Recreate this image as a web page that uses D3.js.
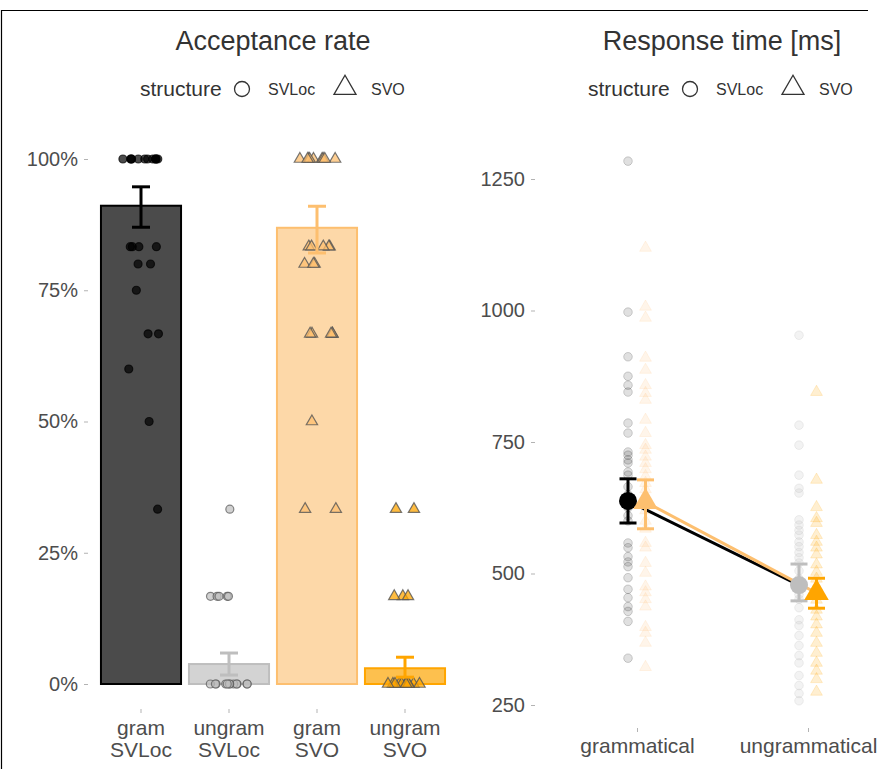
<!DOCTYPE html>
<html><head><meta charset="utf-8">
<script src="https://cdn.jsdelivr.net/npm/d3@7"></script>
<style>
body{margin:0;background:#fff}
text{font-family:"Liberation Sans",Arial,sans-serif}
</style>
</head><body>
<svg id="c" width="881" height="769"></svg>
<script>
// ---------------- data: acceptance rate ----------------
const accCategories = ["gram SVLoc", "ungram SVLoc", "gram SVO", "ungram SVO"];
const accLabels = [["gram", "SVLoc"], ["ungram", "SVLoc"], ["gram", "SVO"], ["ungram", "SVO"]];
const accStructure = ["SVLoc", "SVLoc", "SVO", "SVO"];
const accMean = [0.911, 0.038, 0.869, 0.030];
const accLow  = [0.870, 0.017, 0.821, 0.013];
const accHigh = [0.947, 0.059, 0.910, 0.051];
const accGramSVLoc = [1,1,1,1,1,1,1,1,1,1,1,1, 0.833,0.833,0.833,0.833, 0.8,0.8, 0.75, 0.667,0.667, 0.6, 0.5, 0.333];
const accUngramSVLoc = [0.333, 0.167,0.167,0.167,0.167,0.167, 0,0,0,0,0,0,0,0,0,0,0,0];
const accGramSVO = [1,1,1,1,1,1,1,1,1, 0.833,0.833,0.833,0.833,0.833, 0.8,0.8,0.8, 0.667,0.667,0.667,0.667,0.667, 0.5, 0.333,0.333];
const accUngramSVO = [0.333,0.333, 0.167,0.167,0.167, 0,0,0,0,0,0,0,0,0,0,0,0];
const accTicks = [0, 0.25, 0.5, 0.75, 1];

// ---------------- data: response time ----------------
const rtCategories = ["grammatical", "ungrammatical"];
const rtStructures = ["SVLoc", "SVO"];
const rtMeanSVLoc = [638, 478];
const rtLowSVLoc  = [596, 448];
const rtHighSVLoc = [680, 518];
const rtMeanSVO = [636, 463];
const rtLowSVO  = [585, 434];
const rtHighSVO = [678, 491];
const rtGramSVLoc = [1284, 997, 912, 875, 858, 845, 786, 767, 731, 725, 716, 710, 693, 687, 665, 650, 640, 625, 610, 600, 558, 549, 532, 522, 513, 492, 470, 454, 437, 428, 409, 339];
const rtGramSVO = [1119, 1007, 986, 910, 887, 858, 843, 830, 792, 767, 744, 735, 722, 710, 698, 685, 672, 660, 640, 620, 600, 585, 558, 549, 520, 501, 475, 464, 451, 437, 398, 387, 368, 322];
const rtUngramSVLoc = [953, 782, 744, 687, 662, 653, 602, 592, 582, 573, 560, 551, 540, 530, 520, 505, 490, 475, 460, 451, 435, 412, 401, 382, 363, 344, 330, 306, 287, 272, 258];
const rtUngramSVO = [845, 678, 626, 605, 596, 573, 560, 549, 536, 517, 503, 490, 475, 460, 450, 431, 418, 403, 387, 368, 349, 330, 315, 299, 275];
const rtTicks = [250, 500, 750, 1000, 1250];

// ---------------- styles ----------------
const colBlack = "#000000", colGrey = "#bebebe", colLightOrange = "#fdbf6f", colOrange = "#ffa500";
const accColors = [colBlack, colGrey, colLightOrange, colOrange];
const accFill = ["#4b4b4b", "#d3d3d3", "#fdd8a8", "#fdc04e"];
const textCol = "#4d4d4d";

const svg = d3.select("#c");

// frame
svg.append("path").attr("d", "M1.5,769 L1.5,10.5 L868,10.5").attr("fill", "none").attr("stroke", "#000").attr("stroke-width", 1.2);

// ============ LEFT PANEL ============
const xA = d3.scaleBand().domain(accCategories).range([97, 449]).paddingInner(0.09).paddingOuter(0.045);
const yA = d3.scaleLinear().domain([0, 1]).range([684, 159]);

svg.append("text").attr("x", 273).attr("y", 50).attr("text-anchor", "middle")
  .attr("font-size", 27).attr("fill", "#333").text("Acceptance rate");

function legend(x0) {
  const g = svg.append("g");
  g.append("text").attr("x", x0).attr("y", 96).attr("font-size", 21).attr("fill", "#333").text("structure");
  g.append("circle").attr("cx", x0 + 102).attr("cy", 89).attr("r", 7.5).attr("fill", "none").attr("stroke", "#333").attr("stroke-width", 1.3);
  g.append("text").attr("x", x0 + 128).attr("y", 95).attr("font-size", 16).attr("fill", "#333").text("SVLoc");
  g.append("path").attr("d", d3.symbol().type(d3.symbolTriangle).size(210)())
    .attr("transform", `translate(${x0 + 205},${88})`).attr("fill", "none").attr("stroke", "#333").attr("stroke-width", 1.3);
  g.append("text").attr("x", x0 + 231).attr("y", 95).attr("font-size", 16).attr("fill", "#333").text("SVO");
}
legend(140);

// y axis
const yAxA = svg.append("g").attr("transform", "translate(88,0)")
  .call(d3.axisLeft(yA).tickValues(accTicks).tickFormat(d3.format(".0%")).tickSize(4).tickPadding(6));
yAxA.select(".domain").remove();
yAxA.selectAll("line").attr("stroke", "#b3b3b3");
yAxA.selectAll("text").attr("font-size", 20).attr("fill", textCol);

// x axis
const xAxA = svg.append("g").attr("transform", "translate(0,709)")
  .call(d3.axisBottom(xA).tickSize(4).tickFormat(""));
xAxA.select(".domain").remove();
xAxA.selectAll("line").attr("stroke", "#b3b3b3");
accCategories.forEach((c, i) => {
  const t = svg.append("text").attr("x", xA(c) + xA.bandwidth() / 2).attr("y", 735)
    .attr("text-anchor", "middle").attr("font-size", 21).attr("fill", textCol);
  accLabels[i].forEach((l, j) => t.append("tspan").attr("x", xA(c) + xA.bandwidth() / 2).attr("dy", j ? 22 : 0).text(l));
});

// bars
accCategories.forEach((c, i) => {
  svg.append("rect").attr("x", xA(c)).attr("width", xA.bandwidth())
    .attr("y", yA(accMean[i])).attr("height", yA(0) - yA(accMean[i]))
    .attr("fill", accFill[i]).attr("stroke", i === 0 ? "#000" : accColors[i]).attr("stroke-width", 2);
});

// raw points (horizontal jitter only)
const accRaw = [accGramSVLoc, accUngramSVLoc, accGramSVO, accUngramSVO];
const rng = d3.randomUniform.source(d3.randomLcg(0.4217))(-19, 19);
accRaw.forEach((vals, i) => {
  const cx = xA(accCategories[i]) + xA.bandwidth() / 2;
  vals.forEach(v => {
    const px = cx + rng();
    if (accStructure[i] === "SVLoc") {
      svg.append("circle").attr("cx", px).attr("cy", yA(v)).attr("r", 4)
        .attr("fill", accColors[i]).attr("fill-opacity", 0.7)
        .attr("stroke", i === 0 ? "#000" : "#555").attr("stroke-opacity", 0.7).attr("stroke-width", 1.2);
    } else {
      svg.append("path").attr("d", d3.symbol().type(d3.symbolTriangle).size(55)())
        .attr("transform", `translate(${px},${yA(v)})`)
        .attr("fill", accColors[i]).attr("fill-opacity", 0.75)
        .attr("stroke", "#555").attr("stroke-opacity", 0.8).attr("stroke-width", 1.2);
    }
  });
});

// error bars
accCategories.forEach((c, i) => {
  const cx = xA(c) + xA.bandwidth() / 2;
  const g = svg.append("g").attr("stroke", accColors[i]).attr("stroke-width", 3).attr("fill", "none");
  g.append("line").attr("x1", cx).attr("x2", cx).attr("y1", yA(accLow[i])).attr("y2", yA(accHigh[i]));
  g.append("line").attr("x1", cx - 9).attr("x2", cx + 9).attr("y1", yA(accLow[i])).attr("y2", yA(accLow[i]));
  g.append("line").attr("x1", cx - 9).attr("x2", cx + 9).attr("y1", yA(accHigh[i])).attr("y2", yA(accHigh[i]));
});

// ============ RIGHT PANEL ============
const xR = d3.scalePoint().domain(rtCategories).range([637, 808]);
const dodge = { SVLoc: -9, SVO: 8.5 };
const yR = d3.scaleLinear().domain([250, 1250]).range([705, 179]);

svg.append("text").attr("x", 722).attr("y", 50).attr("text-anchor", "middle")
  .attr("font-size", 27).attr("fill", "#333").text("Response time [ms]");
legend(588);

const yAxR = svg.append("g").attr("transform", "translate(535,0)")
  .call(d3.axisLeft(yR).tickValues(rtTicks).tickFormat(d3.format("d")).tickSize(4).tickPadding(6));
yAxR.select(".domain").remove();
yAxR.selectAll("line").attr("stroke", "#b3b3b3");
yAxR.selectAll("text").attr("font-size", 20).attr("fill", textCol);

const xAxR = svg.append("g").attr("transform", "translate(0,728)")
  .call(d3.axisBottom(xR).tickSize(4).tickPadding(6));
xAxR.select(".domain").remove();
xAxR.selectAll("line").attr("stroke", "#b3b3b3");
xAxR.selectAll("text").attr("font-size", 21).attr("fill", textCol);

const rtRaw = [
  { cat: "grammatical", st: "SVLoc", vals: rtGramSVLoc, col: colBlack, op: 0.12 },
  { cat: "grammatical", st: "SVO", vals: rtGramSVO, col: colLightOrange, op: 0.15 },
  { cat: "ungrammatical", st: "SVLoc", vals: rtUngramSVLoc, col: colGrey, op: 0.18 },
  { cat: "ungrammatical", st: "SVO", vals: rtUngramSVO, col: colOrange, op: 0.18 }
];
rtRaw.forEach(s => {
  const px = xR(s.cat) + dodge[s.st];
  s.vals.forEach(v => {
    if (s.st === "SVLoc") {
      svg.append("circle").attr("cx", px).attr("cy", yR(v)).attr("r", 4.3)
        .attr("fill", s.col).attr("fill-opacity", s.op).attr("stroke", s.col).attr("stroke-opacity", s.op * 1.4).attr("stroke-width", 1);
    } else {
      svg.append("path").attr("d", d3.symbol().type(d3.symbolTriangle).size(60)())
        .attr("transform", `translate(${px},${yR(v)})`)
        .attr("fill", s.col).attr("fill-opacity", s.op).attr("stroke", s.col).attr("stroke-opacity", s.op).attr("stroke-width", 1);
    }
  });
});

// lines
const lineGen = d3.line().x(d => d[0]).y(d => d[1]);
svg.append("path").attr("d", lineGen(rtCategories.map((c, i) => [xR(c) + dodge.SVLoc, yR(rtMeanSVLoc[i])])))
  .attr("fill", "none").attr("stroke", colBlack).attr("stroke-width", 3);
svg.append("path").attr("d", lineGen(rtCategories.map((c, i) => [xR(c) + dodge.SVO, yR(rtMeanSVO[i])])))
  .attr("fill", "none").attr("stroke", colLightOrange).attr("stroke-width", 3);

// error bars + means
const rtSum = [
  { st: "SVLoc", mean: rtMeanSVLoc, lo: rtLowSVLoc, hi: rtHighSVLoc, cols: [colBlack, colGrey] },
  { st: "SVO", mean: rtMeanSVO, lo: rtLowSVO, hi: rtHighSVO, cols: [colLightOrange, colOrange] }
];
rtSum.forEach(s => {
  rtCategories.forEach((c, i) => {
    const cx = xR(c) + dodge[s.st];
    const g = svg.append("g").attr("stroke", s.cols[i]).attr("stroke-width", 3).attr("fill", "none");
    g.append("line").attr("x1", cx).attr("x2", cx).attr("y1", yR(s.lo[i])).attr("y2", yR(s.hi[i]));
    g.append("line").attr("x1", cx - 8.5).attr("x2", cx + 8.5).attr("y1", yR(s.lo[i])).attr("y2", yR(s.lo[i]));
    g.append("line").attr("x1", cx - 8.5).attr("x2", cx + 8.5).attr("y1", yR(s.hi[i])).attr("y2", yR(s.hi[i]));
  });
});
rtSum.forEach(s => {
  rtCategories.forEach((c, i) => {
    const cx = xR(c) + dodge[s.st];
    if (s.st === "SVLoc") {
      svg.append("circle").attr("cx", cx).attr("cy", yR(s.mean[i])).attr("r", 9).attr("fill", s.cols[i]);
    } else {
      svg.append("path").attr("d", d3.symbol().type(d3.symbolTriangle).size(260)())
        .attr("transform", `translate(${cx},${yR(s.mean[i])})`).attr("fill", s.cols[i]);
    }
  });
});
</script>
</body></html>
